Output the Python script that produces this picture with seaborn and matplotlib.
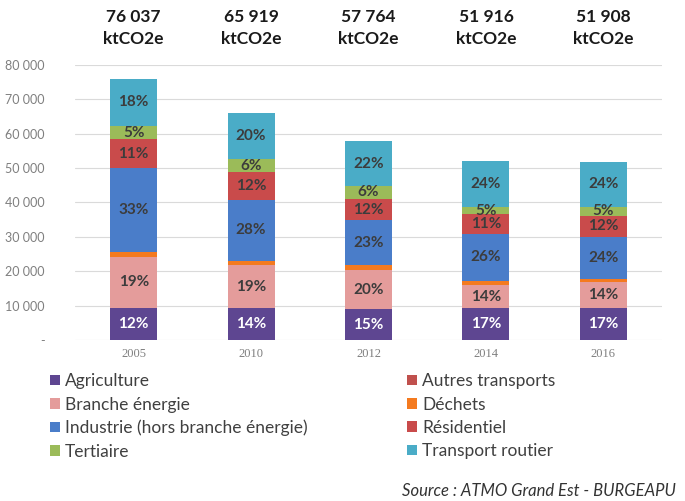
import numpy as np
import pandas as pd
import matplotlib
matplotlib.use("Agg")
import matplotlib.pyplot as plt
from matplotlib.patches import Patch
import seaborn as sns

years = ["2005", "2010", "2012", "2014", "2016"]
totals = [76037, 65919, 57764, 51916, 51908]
total_labels = ["76 037", "65 919", "57 764", "51 916", "51 908"]

# stacking order, bottom to top
sectors = ["Agriculture", "Autres transports", "Branche énergie", "Déchets",
           "Industrie (hors branche énergie)", "Résidentiel", "Tertiaire", "Transport routier"]
agriculture = [9300, 9200, 8900, 9200, 9200]
autres_transports = [0, 0, 0, 0, 0]
branche_energie = [14900, 12600, 11450, 6800, 7550]
dechets = [1400, 1250, 1450, 1150, 1000]
industrie = [24400, 17700, 13100, 13700, 12300]
residentiel = [8400, 8000, 6100, 5800, 6100]
tertiaire = [3850, 3900, 3800, 1950, 2450]
transport_routier = [13787, 13269, 12964, 13316, 13308]

pct_labels = {
    "Agriculture": ["12%", "14%", "15%", "17%", "17%"],
    "Branche énergie": ["19%", "19%", "20%", "14%", "14%"],
    "Industrie (hors branche énergie)": ["33%", "28%", "23%", "26%", "24%"],
    "Résidentiel": ["11%", "12%", "12%", "11%", "12%"],
    "Tertiaire": ["5%", "6%", "6%", "5%", "5%"],
    "Transport routier": ["18%", "20%", "22%", "24%", "24%"],
}

colors = {
    "Agriculture": "#5E4691",
    "Autres transports": "#C0504D",
    "Branche énergie": "#E49C9B",
    "Déchets": "#F47A1F",
    "Industrie (hors branche énergie)": "#4A7DC9",
    "Résidentiel": "#C94B4B",
    "Tertiaire": "#9BBB59",
    "Transport routier": "#4AACC7",
}

df = pd.DataFrame({
    "Agriculture": agriculture,
    "Autres transports": autres_transports,
    "Branche énergie": branche_energie,
    "Déchets": dechets,
    "Industrie (hors branche énergie)": industrie,
    "Résidentiel": residentiel,
    "Tertiaire": tertiaire,
    "Transport routier": transport_routier,
}, index=years)
cum = df.cumsum(axis=1)

sns.set_theme(style="white")
plt.rcParams["font.family"] = ["Lato", "DejaVu Sans"]

fig = plt.figure(figsize=(6.85, 5.01), dpi=100)
ax = fig.add_axes([0.1095, 0.3214, 0.857, 0.549])

# draw cumulative bars from the top layer down
for s in reversed(sectors):
    sns.barplot(x=years, y=cum[s].values, color=colors[s], width=0.4,
                saturation=1, ax=ax, order=years, zorder=3, linewidth=0)

# segment labels
for s, labs in pct_labels.items():
    tops = cum[s].values
    bots = tops - df[s].values
    for i, lab in enumerate(labs):
        col = "white" if s == "Agriculture" else "#3C3C3C"
        ax.text(i, (tops[i] + bots[i]) / 2, lab, ha="center", va="center",
                fontsize=11, fontweight="bold", color=col, zorder=5)

ax.set_ylim(0, 80000)
ax.set_xlim(-0.5, 4.5)
ax.set_yticks(np.arange(0, 80001, 10000))
ax.set_yticklabels(["-"] + ["{:,}".format(v).replace(",", " ") for v in range(10000, 80001, 10000)])
ax.grid(axis="y", color="#DADADA", linewidth=0.8, zorder=0)
ax.set_axisbelow(True)
for sp in ax.spines.values():
    sp.set_visible(False)
ax.tick_params(axis="y", length=0, pad=22, labelsize=9, labelcolor="#7F7F7F")
ax.tick_params(axis="x", length=0, pad=6, labelsize=9, labelcolor="#7F7F7F")
for t in ax.get_xticklabels():
    t.set_fontfamily("Liberation Serif")
ax.set_xlabel("")
ax.set_ylabel("")

# totals above the chart
for i, lab in enumerate(total_labels):
    ax.text(i, 1.135, lab + "\nktCO2e", transform=ax.get_xaxis_transform(),
            ha="center", va="center", fontsize=12.5, fontweight="bold",
            color="#1A1A1A", linespacing=1.45)

legend_order = ["Agriculture", "Branche énergie", "Industrie (hors branche énergie)", "Tertiaire",
                "Autres transports", "Déchets", "Résidentiel", "Transport routier"]
handles = [Patch(facecolor=colors[s], edgecolor="none", label=s) for s in legend_order]
fig.legend(handles=handles, ncol=2, loc="upper left", bbox_to_anchor=(0.073, 0.255),
           frameon=False, fontsize=12.5, labelcolor="#404040", handlelength=0.55,
           handleheight=0.55, handletextpad=0.3, columnspacing=5.75,
           labelspacing=0.42, borderpad=0, borderaxespad=0)

fig.text(0.587, 0.004, "Source : ATMO Grand Est - BURGEAPU", fontsize=12,
         style="italic", color="#333333", ha="left", va="bottom")

fig.savefig("out.png", dpi=100)
